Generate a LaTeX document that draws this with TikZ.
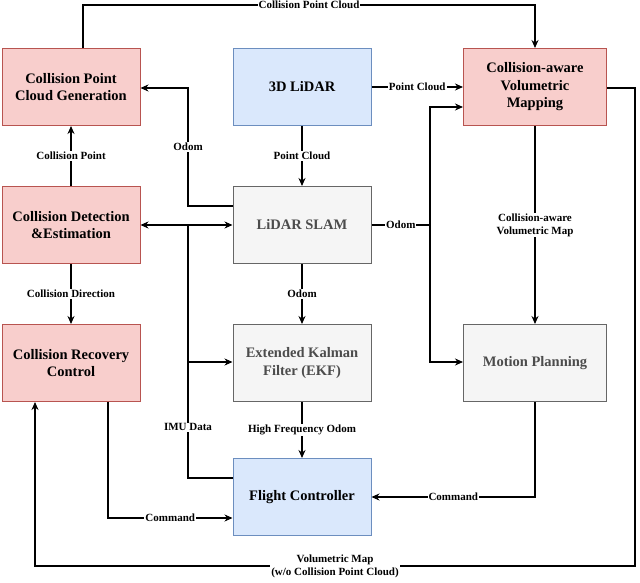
\documentclass[tikz,border=0pt]{standalone}
\usepackage{fontspec}
\setmainfont{Liberation Serif}
\usetikzlibrary{arrows.meta}
\definecolor{pk}{HTML}{F8CECC}\definecolor{pkd}{HTML}{B85450}
\definecolor{bl}{HTML}{DAE8FC}\definecolor{bld}{HTML}{6C8EBF}
\definecolor{gy}{HTML}{F5F5F5}\definecolor{gyd}{HTML}{666666}
\begin{document}
\begin{tikzpicture}[x=1pt,y=-1pt,
 box/.style={draw,line width=1pt,minimum width=138pt,minimum height=77pt,align=center,font=\fontsize{14.5}{17.5}\selectfont\bfseries},
 pink/.style={box,fill=pk,draw=pkd},
 blue/.style={box,fill=bl,draw=bld},
 gray/.style={box,fill=gy,draw=gyd,text=black!70},
 lab/.style={fill=white,inner sep=1pt,font=\fontsize{11}{13}\selectfont\bfseries,align=center},
 arr/.style={-{Stealth[length=8pt,width=7pt]},line width=1.1pt},
 ln/.style={line width=1.1pt}]
\useasboundingbox (0,0) rectangle (640,583);
\node[pink] (cpcg) at (71,87) {Collision Point\\Cloud Generation};
\node[pink] (cde) at (71,225) {Collision Detection\\\&Estimation};
\node[pink] (crc) at (71,363) {Collision Recovery\\Control};
\node[blue] (lidar) at (302,87) {3D LiDAR};
\node[gray] (slam) at (302,225) {LiDAR SLAM};
\node[gray] (ekf) at (302,363) {Extended Kalman\\Filter (EKF)};
\node[blue] (fc) at (302,497) {Flight Controller};
\node[pink,minimum width=143pt] (map) at (535,87) {Collision-aware\\Volumetric\\Mapping};
\node[gray,minimum width=143pt] (mp) at (535,363) {Motion Planning};
\coordinate (t1) at (83,5); \coordinate (t2) at (535,5);
\draw[arr] (cpcg.north -| t1) -- (t1) -- node[lab]{Collision Point Cloud} (t2) -- (map.north -| t2);
\draw[arr] (lidar.east) -- node[lab]{Point Cloud} (map.west |- lidar.east);
\draw[arr] (lidar) -- node[lab]{Point Cloud} (slam);
\draw[arr] (slam) -- node[lab]{Odom} (ekf);
\draw[arr] (ekf) -- node[lab]{High Frequency Odom} (fc);
\draw[arr] (map) -- node[lab]{Collision-aware\\Volumetric Map} (mp);
\draw[arr] (cde) -- node[lab]{Collision Point} (cpcg);
\draw[arr] (cde) -- node[lab]{Collision Direction} (crc);
\coordinate (o1) at (188,206); \coordinate (o2) at (188,88);
\draw[arr] (slam.west |- o1) -- (o1) -- node[lab]{Odom} (o2) -- (cpcg.east |- o2);
\draw[arr,{Stealth[length=8pt,width=7pt]}-{Stealth[length=8pt,width=7pt]}] (cde.east) -- (slam.west);
\coordinate (i1) at (188,225); \coordinate (i2) at (188,478); \coordinate (i3) at (188,362);
\draw[ln] (fc.west |- i2) -- (i2) -- node[lab,pos=0.2]{IMU Data} (i1);
\draw[arr] (i3) -- (ekf.west |- i3);
\coordinate (r1) at (430,225); \coordinate (r2) at (430,107); \coordinate (r3) at (430,362);
\draw[ln] (slam.east) -- node[lab]{Odom} (r1);
\draw[arr] (r1) -- (r2) -- (map.west |- r2);
\draw[arr] (r1) -- (r3) -- (mp.west |- r3);
\coordinate (m1) at (535,497);
\draw[arr] (mp.south) -- (m1) -- node[lab]{Command} (fc.east);
\coordinate (c1) at (108,518);
\draw[arr] (crc.south -| c1) -- (c1) -- node[lab]{Command} (fc.west |- c1);
\coordinate (v1) at (635,88); \coordinate (v2) at (635,566); \coordinate (v3) at (35,566);
\draw[arr] (map.east |- v1) -- (v1) -- (v2) -- node[lab]{Volumetric Map\\(w/o Collision Point Cloud)} (v3) -- (crc.south -| v3);
\end{tikzpicture}
\end{document}
